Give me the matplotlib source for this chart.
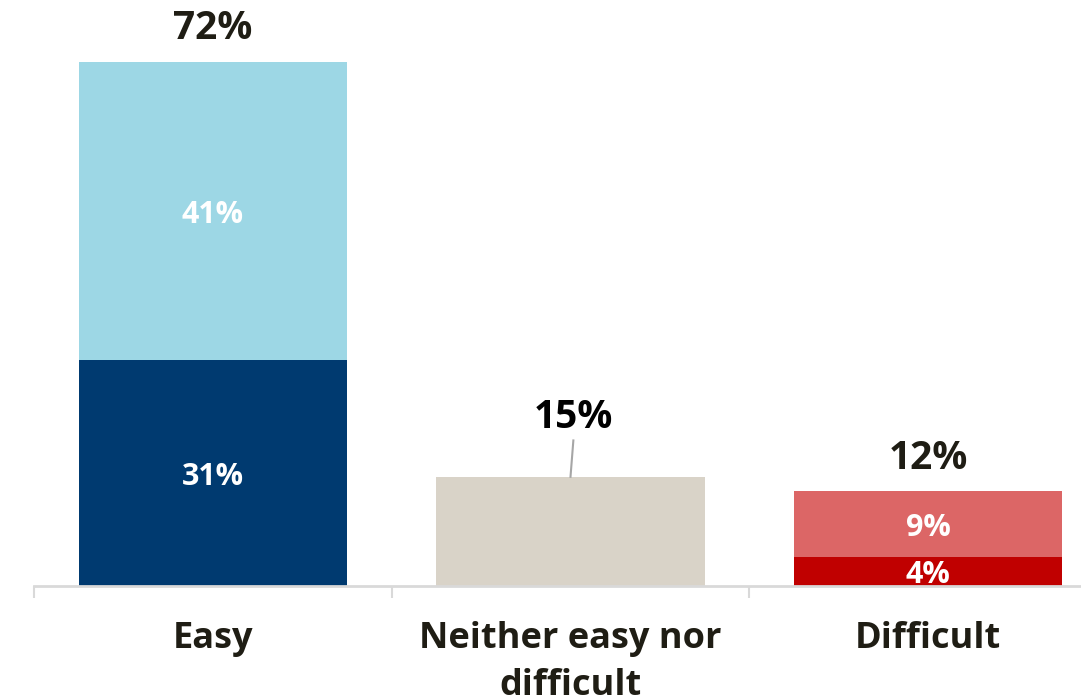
import matplotlib
matplotlib.use("Agg")
import matplotlib.pyplot as plt
import numpy as np

plt.rcParams["font.family"] = ["Open Sans", "DejaVu Sans"]

categories = ["Easy", "Neither easy nor\ndifficult", "Difficult"]
lower = [31, 15, 4]
upper = [41, 0, 9]
lower_labels = ["31%", "", "4%"]
upper_labels = ["41%", "", "9%"]
total_labels = ["72%", "15%", "12%"]

lower_colors = ["#003A70", "#D9D3C8", "#C00000"]
upper_colors = ["#9DD7E5", "#D9D3C8", "#DC6666"]
dark = "#1F1D14"

W, H = 1081, 699
fig = plt.figure(figsize=(W / 100, H / 100), dpi=100)
# axes runs past the right edge so the last category keeps the same spacing
ax = fig.add_axes([34 / W, (H - 586) / H, 1073 / W, 524 / H])

x = np.arange(len(categories))
lower = np.array(lower)
upper = np.array(upper)
totals = lower + upper

ax.bar(x, lower, width=0.75, color=lower_colors, zorder=2)
ax.bar(x, upper, bottom=lower, width=0.75, color=upper_colors, zorder=2)

for i in range(len(x)):
    if lower_labels[i]:
        ax.text(x[i], lower[i] / 2, lower_labels[i], ha="center",
                va="center_baseline", color="white", fontsize=22,
                fontweight="bold", zorder=3)
    if upper_labels[i]:
        ax.text(x[i], lower[i] + upper[i] / 2, upper_labels[i], ha="center",
                va="center_baseline", color="white", fontsize=22,
                fontweight="bold", zorder=3)

for i in range(len(x)):
    if upper[i] == 0:
        # single bar: label sits higher with a short leader line
        ax.plot([x[i], x[i] + 0.008], [totals[i], totals[i] + 5],
                color="#A6A6A6", lw=1.5, clip_on=False, zorder=3)
        ax.text(x[i] + 0.008, totals[i] + 8.1, total_labels[i], ha="center",
                va="center", fontsize=28, fontweight="bold", color="black")
    else:
        ax.annotate(total_labels[i], xy=(x[i], totals[i]), xytext=(0, 24),
                    textcoords="offset points", ha="center", va="center",
                    fontsize=28, fontweight="bold", color=dark,
                    annotation_clip=False)

ax.set_xlim(-0.5, len(x) - 0.5)
ax.set_ylim(0, totals.max())

for s in ["top", "right", "left"]:
    ax.spines[s].set_visible(False)
ax.spines["bottom"].set_color("#D9D9D9")
ax.spines["bottom"].set_linewidth(2)
ax.yaxis.set_visible(False)

ax.set_xticks(x)
ax.set_xticklabels(categories, fontsize=26, fontweight="bold", color=dark,
                   linespacing=1.4)
ax.tick_params(axis="x", which="major", length=0, pad=25.5)
ax.set_xticks(np.arange(len(x)) - 0.5, minor=True)
ax.tick_params(axis="x", which="minor", length=8.5, width=1.5,
               color="#D9D9D9", direction="out")

fig.savefig("out.png", dpi=100)
